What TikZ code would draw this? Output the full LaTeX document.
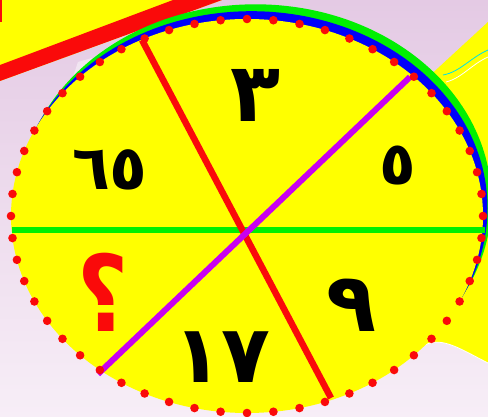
\documentclass[tikz,border=0pt]{standalone}
\usepackage{fontspec}
\newfontfamily\arabicfont[Script=Arabic]{DejaVu Sans}
\usetikzlibrary{calc}
\definecolor{bglilac}{RGB}{228,202,228}
\definecolor{bgpale}{RGB}{247,238,247}
\definecolor{discyellow}{RGB}{255,255,0}
\definecolor{dotred}{RGB}{250,10,10}
\definecolor{linegreen}{RGB}{0,240,0}
\definecolor{rimblue}{RGB}{0,0,250}
\definecolor{linepurple}{RGB}{200,0,240}
\definecolor{wirecyan}{RGB}{0,225,230}

\begin{document}
\begin{tikzpicture}[x=1pt,y=-1pt,
  digit/.style={font=\arabicfont\bfseries\fontsize{#1}{#1}\selectfont,inner sep=0pt}]
  \useasboundingbox (0,0) rectangle (488,417);
  \clip (0,0) rectangle (488,417);
  % background
  \shade[top color=bglilac,bottom color=bgpale] (0,0) rectangle (488,417);
  \fill[white,opacity=0.45] (62,110) -- (78,62) -- (92,58) -- (80,112) -- cycle;
  % card, top left
  \fill[discyellow] (0,0) -- (222,0) -- (0,81) -- cycle;
  \fill[dotred] (0,65) -- (173,0) -- (222,0) -- (0,81) -- cycle;
  \fill[dotred] (0,0) rectangle (2,22);
  % card, right
  \fill[discyellow] (425,80) -- (488,22) -- (488,363)
    .. controls (462,350) and (442,336) .. (425,345) -- cycle;
  \draw[white,thick] (425,345) .. controls (442,336) and (462,350) .. (488,363);
  \draw[wirecyan,thick] (443,75) .. controls (460,72) and (470,58) .. (488,50);
  \draw[white,thick] (446,82) .. controls (462,78) and (472,64) .. (488,57);
  % disc
  \coordinate (O) at (247,216);
  \fill[linegreen] ($(O)+(8.5,-14.7)$) ellipse [x radius=236pt,y radius=197pt];
  \fill[rimblue] ($(O)+(4.5,-7.8)$) ellipse [x radius=236pt,y radius=197pt];
  \fill[discyellow] (O) ellipse [x radius=236pt,y radius=197pt];
  % dividing lines
  \coordinate (G1) at (12,230);
  \coordinate (G2) at (485,230);
  \coordinate (R1) at (142,40);
  \coordinate (R2) at (331,398);
  \coordinate (P1) at (410,77);
  \coordinate (P2) at (98,374);
  \draw[linegreen,line width=6.5pt] (G1) -- (G2);
  \draw[dotred,line width=6.5pt] (R1) -- (R2);
  \draw[linepurple,line width=6pt] (P1) -- (P2);
  % rim dots
  \foreach \k in {0,...,55}
    \fill[dotred] ($(O)+({236*cos(\k*45/7)},{197*sin(\k*45/7)})$) circle (4.3pt);
  % numbers
  \node[digit=82] (three) at (256,95) {٣};
  \node[digit=60] (five) at (398,166) {٥};
  \node[digit=82] (nine) at (352,305) {٩};
  \node[digit=80] (seventeen) at (222,357) {١٧};
  \node[digit=62] (sixtyfive) at (110,170) {٦٥};
  \node[digit=88,dotred,yscale=1.2,transform shape] (query) at (103,292) {؟};
\end{tikzpicture}
\end{document}
